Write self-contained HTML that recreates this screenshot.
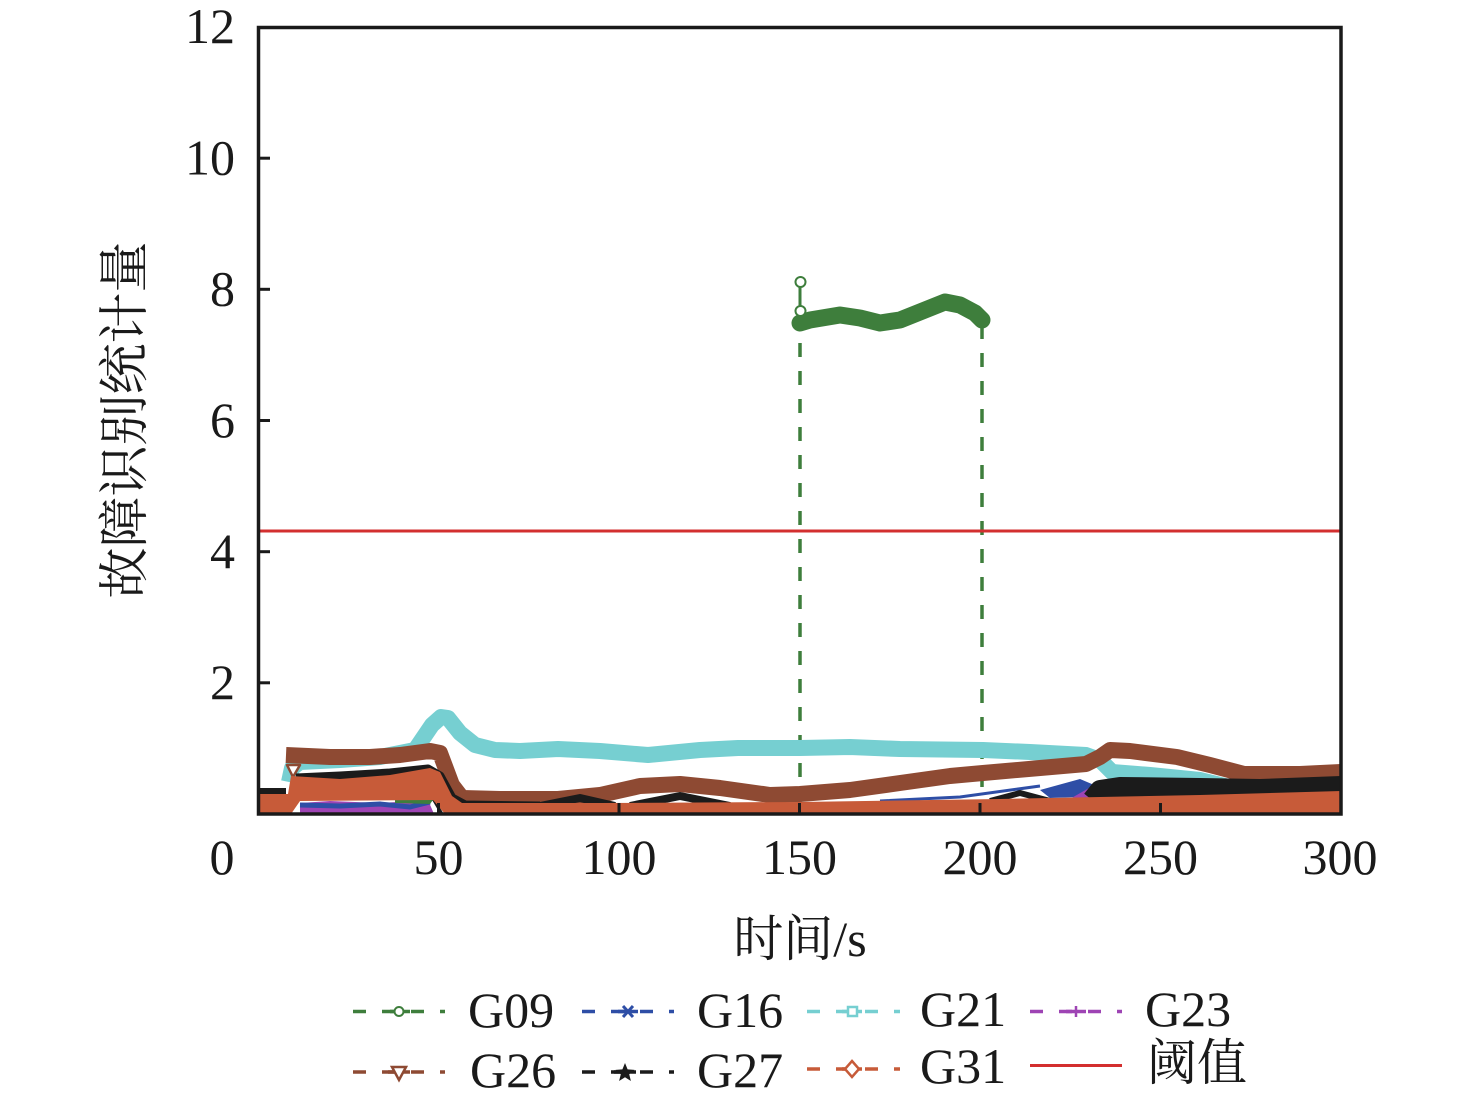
<!DOCTYPE html>
<html><head><meta charset="utf-8"><style>
html,body{margin:0;padding:0;background:#fff;}
svg{display:block;}
.t{font-family:"Liberation Serif","Noto Serif CJK SC",serif;fill:#1a1a1a;}
</style></head><body>
<svg width="1476" height="1111" viewBox="0 0 1476 1111" xmlns="http://www.w3.org/2000/svg">
<defs><clipPath id="c"><rect x="258" y="27" width="1083" height="787"/></clipPath></defs>
<rect width="1476" height="1111" fill="#fff"/>
<g clip-path="url(#c)" stroke-linejoin="round" fill="none">
  <line x1="800" y1="315" x2="800" y2="814" stroke="#3e7e3c" stroke-width="3.5" stroke-dasharray="14 14"/>
  <line x1="982" y1="325" x2="982" y2="814" stroke="#3e7e3c" stroke-width="3.5" stroke-dasharray="14 14"/>
  <line x1="800" y1="282" x2="800" y2="320" stroke="#3e7e3c" stroke-width="3"/>
  <polyline points="800,323 810,320 840,315 860,318 880,323 900,320 920,312 945,302 960,305 975,313 982,320" stroke="#3e7e3c" stroke-width="17" stroke-linecap="round"/>
  <circle cx="800.5" cy="282" r="5" fill="#fff" stroke="#3e7e3c" stroke-width="2"/>
  <circle cx="800.5" cy="311" r="5" fill="#fff" stroke="#3e7e3c" stroke-width="2"/>
  <polyline points="880,801 960,797 1040,786" stroke="#2e4ea6" stroke-width="3"/>
  <polygon points="1040,790 1080,779 1106,790 1080,797 1050,798" fill="#2e4ea6"/>
  <polygon points="1068,800 1096,784 1108,790 1090,800" fill="#9e44b4"/>
  <polyline points="289,782 292,768 300,762 340,760 380,757 415,750 432,725 441,717 448,718 460,733 475,745 495,750 520,751 558,749 600,751 648,755 700,750 738,748 800,748 850,747 900,749 983,750 1030,752 1086,755 1100,760 1112,772 1150,775 1200,780 1233,788 1260,800" stroke="#76cfd1" stroke-width="16"/>
  <polyline points="286,755 330,757 370,757 400,755 430,751 440,753 452,785 462,798 500,799 558,799 600,795 640,786 680,784 720,788 770,795 800,794 850,790 900,783 950,776 983,773 1040,768 1086,764 1100,757 1110,750 1130,751 1177,757 1210,765 1244,774 1300,774 1341,772" stroke="#8e4a33" stroke-width="16"/>
  <polygon points="287,765 300,765 293,777" fill="#fff" stroke="#8e4a33" stroke-width="2.5"/>
  <polyline points="258,791 286,791" stroke="#1b1b1b" stroke-width="6"/>
  <polyline points="296,778 340,776 390,773 428,769 440,776 452,798 465,805 540,806" stroke="#1b1b1b" stroke-width="9"/>
  <polyline points="540,806 580,798 615,806" stroke="#1b1b1b" stroke-width="8"/>
  <polyline points="630,806 680,796 730,806" stroke="#1b1b1b" stroke-width="8"/>
  <polyline points="990,801 1020,793 1050,801" stroke="#1b1b1b" stroke-width="6"/>
  <polyline points="1092,800 1100,790 1120,787 1200,788 1260,789 1341,786" stroke="#1b1b1b" stroke-width="20"/>
  <line x1="428" y1="790" x2="442" y2="814" stroke="#1b1b1b" stroke-width="3"/>
  <polygon points="300,803 330,801 380,803 428,800 434,814 300,814" fill="#9e44b4" stroke="none"/>
  <polyline points="300,805 340,806 380,804 410,807 430,802" stroke="#2e4ea6" stroke-width="5"/>
  <polygon points="395,800 428,791 433,800 430,804 395,803" fill="#3e7e3c" stroke="none"/>
  <polygon points="258,794 288,794 291,776 340,779 390,775 430,768 440,772 452,796 462,803 600,803 800,802 1000,799 1100,797 1200,795 1341,791 1341,814 445,814 433,800 300,801 291,814 258,814" fill="#c75b39" stroke="none"/>
</g>
<line x1="258" y1="531" x2="1341" y2="531" stroke="#d32f2f" stroke-width="3"/>
<rect x="258.5" y="27.5" width="1082.5" height="786.5" fill="none" stroke="#1a1a1a" stroke-width="3.5"/>
<g stroke="#1a1a1a" stroke-width="3">
  <line x1="258" y1="682.8" x2="270" y2="682.8"/>
  <line x1="258" y1="551.7" x2="270" y2="551.7"/>
  <line x1="258" y1="420.5" x2="270" y2="420.5"/>
  <line x1="258" y1="289.3" x2="270" y2="289.3"/>
  <line x1="258" y1="158.2" x2="270" y2="158.2"/>
  <line x1="438.5" y1="814" x2="438.5" y2="803"/>
  <line x1="619" y1="814" x2="619" y2="803"/>
  <line x1="799.5" y1="814" x2="799.5" y2="803"/>
  <line x1="980" y1="814" x2="980" y2="803"/>
  <line x1="1160.5" y1="814" x2="1160.5" y2="803"/>
</g>
<g class="t" font-size="50" text-anchor="end">
  <text x="235" y="43">12</text>
  <text x="235" y="174.5">10</text>
  <text x="235" y="305.5">8</text>
  <text x="235" y="437">6</text>
  <text x="235" y="568">4</text>
  <text x="235" y="699">2</text>
</g>
<g class="t" font-size="50" text-anchor="middle">
  <text x="222" y="874">0</text>
  <text x="438.5" y="874">50</text>
  <text x="619" y="874">100</text>
  <text x="799.5" y="874">150</text>
  <text x="980" y="874">200</text>
  <text x="1340" y="874">300</text>
  <text x="1160.5" y="874">250</text>
</g>
<text class="t" font-size="50" text-anchor="middle" x="800" y="956">时间/s</text>
<text class="t" font-size="51" text-anchor="middle" transform="translate(142,420) rotate(-90)">故障识别统计量</text>
<g fill="none" stroke-width="3.5">
  <line x1="353" y1="1011.5" x2="445" y2="1011.5" stroke="#3e7e3c" stroke-dasharray="13 16"/>
  <line x1="390" y1="1011.5" x2="410" y2="1011.5" stroke="#3e7e3c"/>
  <circle cx="399" cy="1011.5" r="4.5" fill="#fff" stroke="#3e7e3c" stroke-width="2"/>
  <line x1="582" y1="1011.5" x2="674" y2="1011.5" stroke="#2e4ea6" stroke-dasharray="13 16"/>
  <line x1="618" y1="1011.5" x2="638" y2="1011.5" stroke="#2e4ea6"/>
  <path d="M623,1006 L633,1017 M633,1006 L623,1017" stroke="#2e4ea6" stroke-width="3"/>
  <line x1="807" y1="1011.5" x2="900" y2="1011.5" stroke="#76cfd1" stroke-dasharray="13 16"/>
  <line x1="842" y1="1011.5" x2="862" y2="1011.5" stroke="#76cfd1"/>
  <rect x="848" y="1007" width="9" height="9" fill="#fff" stroke="#76cfd1" stroke-width="2.5"/>
  <line x1="1030" y1="1011.5" x2="1122" y2="1011.5" stroke="#9e44b4" stroke-dasharray="13 16"/>
  <line x1="1066" y1="1011.5" x2="1086" y2="1011.5" stroke="#9e44b4"/>
  <line x1="1076" y1="1006" x2="1076" y2="1017" stroke="#9e44b4" stroke-width="2.5"/>
  <line x1="353" y1="1072" x2="445" y2="1072" stroke="#8e4a33" stroke-dasharray="13 16"/>
  <line x1="388" y1="1072" x2="410" y2="1072" stroke="#8e4a33"/>
  <polygon points="392,1067 406,1067 399,1080" fill="#fff" stroke="#8e4a33" stroke-width="2.5"/>
  <line x1="582" y1="1072" x2="674" y2="1072" stroke="#1b1b1b" stroke-dasharray="13 16"/>
  <line x1="614" y1="1072" x2="636" y2="1072" stroke="#1b1b1b"/>
  <polygon points="625,1063 627.6,1069.4 634.5,1069.9 629.2,1074.3 630.9,1081 625,1077.3 619.1,1081 620.8,1074.3 615.5,1069.9 622.4,1069.4" fill="#1b1b1b" stroke="none"/>
  <line x1="807" y1="1069" x2="900" y2="1069" stroke="#c75b39" stroke-dasharray="13 16"/>
  <line x1="842" y1="1069" x2="862" y2="1069" stroke="#c75b39"/>
  <polygon points="852,1061 859,1069 852,1077 845,1069" fill="#fff" stroke="#c75b39" stroke-width="2.5"/>
  <line x1="1030" y1="1065.5" x2="1122" y2="1065.5" stroke="#d32f2f" stroke-width="3"/>
</g>
<g class="t" font-size="50">
  <text x="468" y="1027">G09</text>
  <text x="697" y="1027">G16</text>
  <text x="920" y="1026">G21</text>
  <text x="1145" y="1026">G23</text>
  <text x="470" y="1087">G26</text>
  <text x="697" y="1087">G27</text>
  <text x="920" y="1083">G31</text>
  <text x="1147" y="1080">阈值</text>
</g>
</svg>
</body></html>
